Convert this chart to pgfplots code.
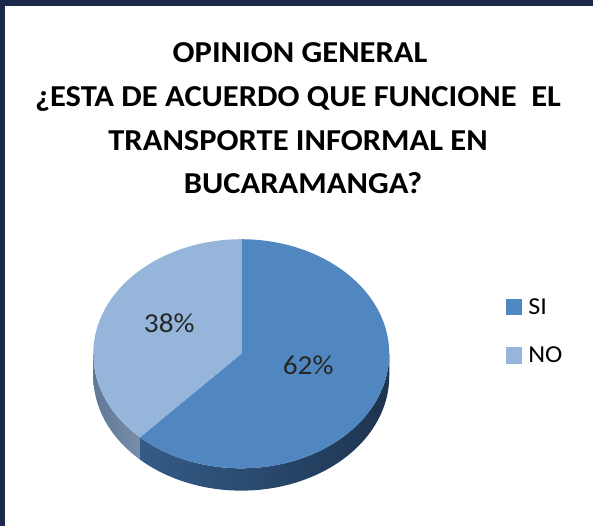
\documentclass[border=0pt]{standalone}
\usepackage{pgfplots}
\pgfplotsset{compat=1.18}
\usepackage{pgfplotstable}
\usepackage{fontspec}
\setmainfont[FakeStretch=1.07]{Carlito}
\usetikzlibrary{calc}
\definecolor{sitop}{RGB}{80,135,192}
\definecolor{notop}{RGB}{150,181,218}
\definecolor{sisideL}{RGB}{52,92,135}
\definecolor{sisideR}{RGB}{30,52,80}
\definecolor{nosideL}{RGB}{95,120,150}
\definecolor{nosideR}{RGB}{120,142,170}
\definecolor{frame}{RGB}{27,42,74}
\pgfplotstableread{
label value
SI 62
NO 38
}\piedata
\begin{document}
\begin{tikzpicture}
\pgfplotstablegetelem{0}{value}\of\piedata
\pgfmathsetmacro\siv{\pgfplotsretval}
\pgfmathsetmacro\split{90-3.6*\siv}
\pgfmathsetmacro\splitb{\split+360}
\begin{axis}[
  at={(0,0)}, anchor=south west,
  width=593pt, height=525pt, scale only axis,
  xmin=0, xmax=593, ymin=0, ymax=525,
  enlargelimits=false, axis lines=none, clip=false,
  legend style={at={(axis cs:504,229)}, anchor=north west, draw=none, fill=none,
    font=\fontsize{24}{27}\selectfont, row sep=27pt, column sep=4pt,
    legend cell align=left},
  legend image code/.code={\fill[#1, draw=none] (0pt,-8pt) rectangle (16pt,8pt);},
]
% frame
\fill[frame] (axis cs:8,513) rectangle (axis cs:593,519);
\fill[frame] (axis cs:8,0) rectangle (axis cs:13,519);
% pie sides (front half)
\shade[left color=sisideL, right color=sisideR]
  ($(axis cs:246,170)+(\split:146pt and 113pt)$)
  arc[start angle=\split, end angle=0, x radius=146pt, y radius=113pt]
  -- ++(0,-22pt)
  arc[start angle=0, end angle=\split, x radius=146pt, y radius=113pt] -- cycle;
\shade[left color=nosideL, right color=nosideR]
  ($(axis cs:246,170)+(180:146pt and 113pt)$)
  arc[start angle=180, end angle=\splitb, x radius=146pt, y radius=113pt]
  -- ++(0,-22pt)
  arc[start angle=\splitb, end angle=180, x radius=146pt, y radius=113pt] -- cycle;
% pie tops
\fill[sitop] (axis cs:246,170) -- ($(axis cs:246,170)+(90:146pt and 113pt)$)
  arc[start angle=90, end angle=\split, x radius=146pt, y radius=113pt] -- cycle;
\fill[notop] (axis cs:246,170) -- ($(axis cs:246,170)+(\split:146pt and 113pt)$)
  arc[start angle=\split, end angle=-270, x radius=146pt, y radius=113pt] -- cycle;
% labels
\node[font=\fontsize{27}{30}\selectfont, text=black!85] at (axis cs:312,159) {62\%};
\node[font=\fontsize{27}{30}\selectfont, text=black!85] at (axis cs:175,200) {38\%};
% title
\begin{scope}[every node/.style={anchor=base, font=\bfseries\fontsize{30}{36}\selectfont, inner sep=0pt}]
\node at (axis cs:304,457) {OPINION GENERAL};
\node at (axis cs:302,414) {¿ESTA DE ACUERDO QUE FUNCIONE\ \ EL};
\node at (axis cs:302,371) {TRANSPORTE INFORMAL EN};
\node at (axis cs:307,328) {BUCARAMANGA?};
\end{scope}
\addlegendimage{draw=none, fill=sitop}
\addlegendentry{SI}
\addlegendimage{draw=none, fill=notop}
\addlegendentry{NO}
\end{axis}
\end{tikzpicture}
\end{document}
